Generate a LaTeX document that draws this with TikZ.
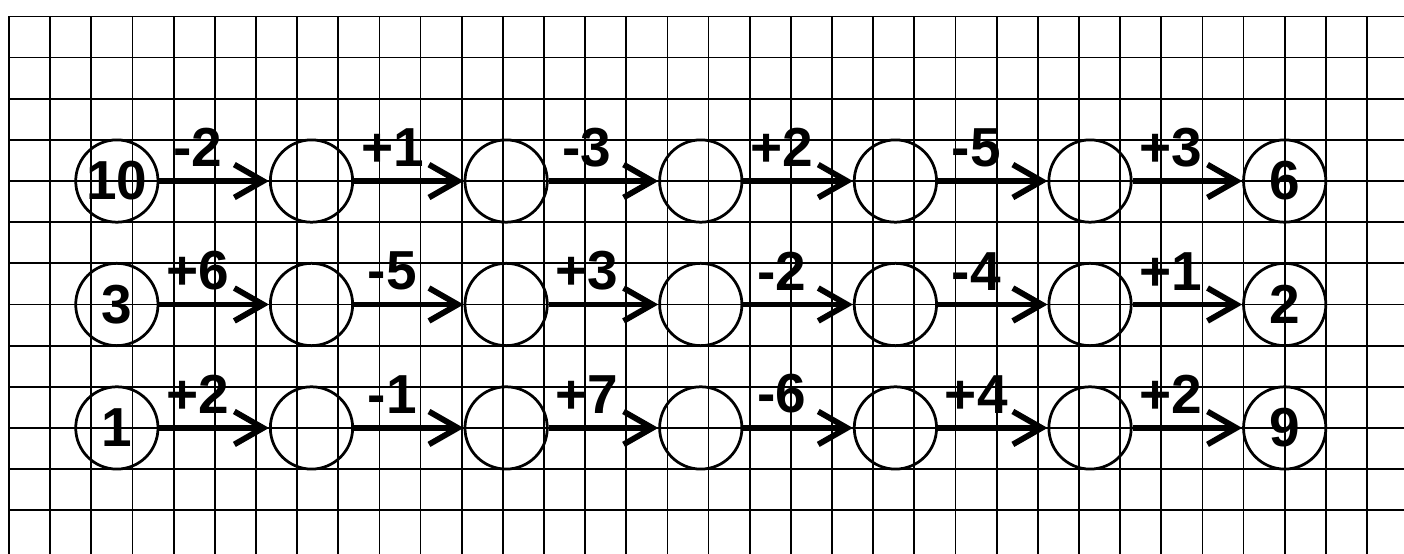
\documentclass[tikz,border=0pt]{standalone}
\usepackage{fontspec}
\setmainfont{Liberation Sans}
\usetikzlibrary{arrows.meta}
\newcommand{\numfont}{\bfseries\fontsize{38}{38}\selectfont}
\tikzset{
	cell/.style={line width=1.2pt},
	ring/.style={circle,draw,line width=1.9pt,minimum size=2cm,inner sep=0pt,font=\numfont},
	jump/.style={line width=4pt,line cap=butt,-{Straight Barb[length=0.7cm,width=0.8cm,line width=4pt]}},
	hop/.style={pos=0.35,above=0.28cm,inner sep=0pt,font=\numfont}
}
\begin{document}
\begin{tikzpicture}
				\fill[white] (-0.22,-0.06) rectangle (33.9,13.4);
				\useasboundingbox (-0.22,-0.06) rectangle (33.9,13.4);
				\foreach \x in {0,...,33} \draw[cell] (\x,-0.06) -- (\x,13);
				\foreach \y in {1,...,13} \draw[cell] (0,\y) -- (33.9,\y);
				\foreach \i/\t in {1/10,2/,3/,4/,5/,6/,7/6}
					\node[ring] (a\i) at ({2.62+4.73*(\i-1)},9) {\t};
				\foreach \i/\t in {1/3,2/,3/,4/,5/,6/,7/2}
					\node[ring] (b\i) at ({2.62+4.73*(\i-1)},6) {\t};
				\foreach \i/\t in {1/1,2/,3/,4/,5/,6/,7/9}
					\node[ring] (c\i) at ({2.62+4.73*(\i-1)},3) {\t};
				\foreach \i/\j/\s in {1/2/-2,2/3/+1,3/4/-3,4/5/+2,5/6/-5,6/7/+3}
					\draw[jump] (a\i) -- node[hop] {\s} (a\j);
				\foreach \i/\j/\s in {1/2/+6,2/3/-5,3/4/+3,4/5/-2,5/6/-4,6/7/+1}
					\draw[jump] (b\i) -- node[hop] {\s} (b\j);
				\foreach \i/\j/\s in {1/2/+2,2/3/-1,3/4/+7,4/5/-6,5/6/+4,6/7/+2}
					\draw[jump] (c\i) -- node[hop] {\s} (c\j);
				\end{tikzpicture}
\end{document}
